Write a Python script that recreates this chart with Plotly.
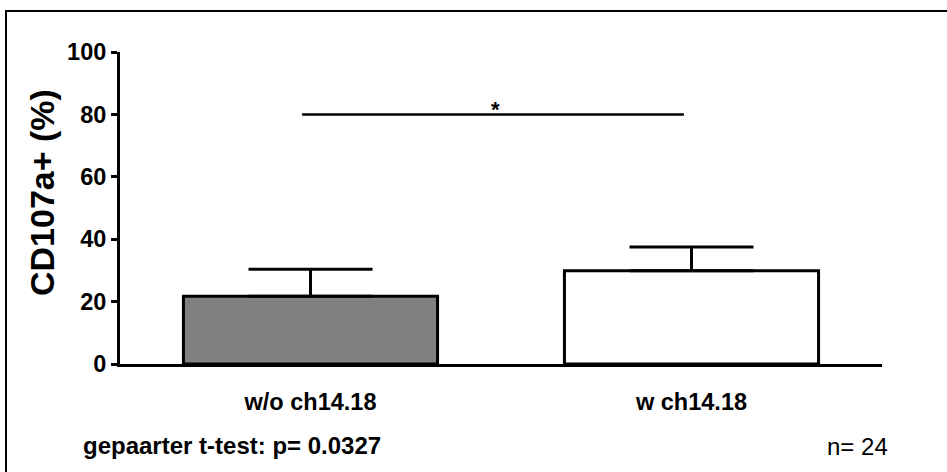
import plotly.graph_objects as go

categories = ["w/o ch14.18", "w ch14.18"]
means = [21.7, 29.9]
errors_up = [8.7, 7.6]
bar_colors = ["#808080", "#ffffff"]
y_ticks = [0, 20, 40, 60, 80, 100]
sig_level = 80
sig_label = "*"
test_text = "gepaarter t-test: p= 0.0327"
n_text = "n= 24"

FONT = "Arial, Liberation Sans, sans-serif"
xpos = list(range(len(categories)))

W, H = 947, 472
L, R, T, B = 120, 65, 52, 108
PW, PH = W - L - R, H - T - B


def px(x):
    return (x - L) / PW


def py(y):
    return (H - B - y) / PH


fig = go.Figure()
fig.add_trace(go.Bar(
    x=xpos, y=means, width=0.667,
    marker=dict(color=bar_colors, line=dict(color="black", width=3)),
    error_y=dict(type="data", symmetric=False, array=errors_up,
                 arrayminus=[0] * len(means), color="black", thickness=3, width=62),
    showlegend=False, hoverinfo="skip",
))

# significance line
fig.add_shape(type="line", xref="x", yref="y",
              x0=xpos[0] - 0.022, x1=xpos[1] - 0.02, y0=sig_level, y1=sig_level,
              line=dict(color="black", width=2.5))
fig.add_annotation(x=(xpos[0] + xpos[1]) / 2 - 0.015, y=sig_level, xref="x", yref="y",
                   text="<b>" + sig_label + "</b>", showarrow=False, yanchor="bottom", yshift=-10,
                   font=dict(family=FONT, size=22, color="black"))

# outer frame
fig.add_shape(type="rect", xref="paper", yref="paper",
              x0=px(6), x1=px(980), y0=py(500), y1=py(11),
              line=dict(color="black", width=2), fillcolor="rgba(0,0,0,0)", layer="below")

# y title
fig.add_annotation(x=px(42), y=py(193), xref="paper", yref="paper",
                   text="<b>CD107a+ (%)</b>", textangle=-90, showarrow=False,
                   xanchor="center", yanchor="middle",
                   font=dict(family=FONT, size=34, color="black"))

fig.add_annotation(x=px(81), y=py(445), xref="paper", yref="paper",
                   text="<b>" + test_text + "</b>", showarrow=False,
                   xanchor="left", yanchor="middle",
                   font=dict(family=FONT, size=24, color="black"))
fig.add_annotation(x=px(825), y=py(446), xref="paper", yref="paper",
                   text=n_text, showarrow=False,
                   xanchor="left", yanchor="middle",
                   font=dict(family=FONT, size=24, color="black"))

fig.update_layout(
    width=W, height=H,
    margin=dict(l=L, r=R, t=T, b=B),
    paper_bgcolor="white", plot_bgcolor="white",
    font=dict(family=FONT, color="black"),
    xaxis=dict(range=[-0.5, 1.5], tickvals=xpos,
               ticktext=["<b>" + c + "</b>" for c in categories],
               tickfont=dict(family=FONT, size=23.5, color="black"),
               showline=True, linecolor="black", linewidth=3,
               ticks="", showgrid=False, zeroline=False,
               ticklabelstandoff=15),
    yaxis=dict(range=[0, 100], tickvals=y_ticks,
               ticktext=["<b>%d</b>" % v for v in y_ticks],
               tickfont=dict(family=FONT, size=23.5, color="black"),
               showline=True, linecolor="black", linewidth=3,
               ticks="outside", ticklen=6, tickwidth=3, tickcolor="black",
               showgrid=False, zeroline=False),
)

fig.write_html("out.html", config={"displayModeBar": False},
               post_script="document.body.style.margin='0';document.body.style.overflow='hidden';")
